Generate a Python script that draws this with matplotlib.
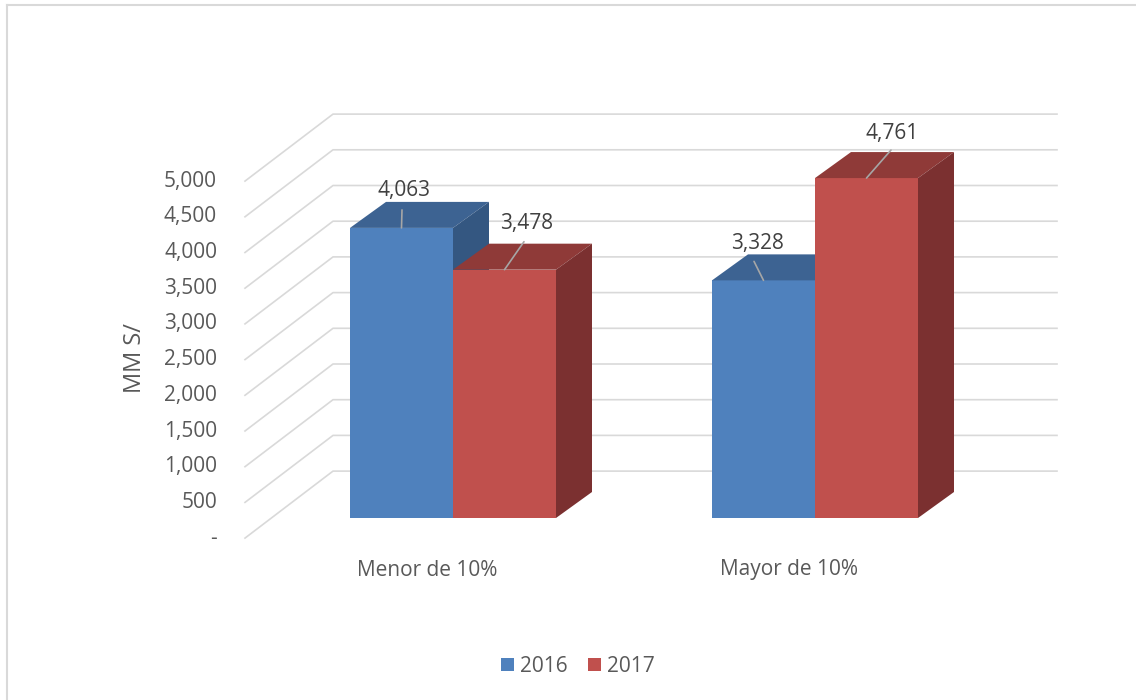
import matplotlib.pyplot as plt
from matplotlib.patches import Polygon, Rectangle, Patch
from matplotlib.lines import Line2D

# datos
categorias = ['Menor de 10%', 'Mayor de 10%']
series = ['2016', '2017']
v2016 = [4063, 3328]
v2017 = [3478, 4761]
ticks = [0, 500, 1000, 1500, 2000, 2500, 3000, 3500, 4000, 4500, 5000]

# colores: frente, tapa, lado
col_front = ['#4F81BD', '#C0504D']
col_top = ['#3D6392', '#8F3A38']
col_side = ['#345781', '#7B3030']
grid_c = '#D9D9D9'; txt_c = '#595959'; lab_c = '#404040'

plt.rcParams['font.family'] = ['Open Sans', 'DejaVu Sans']

fig = plt.figure(figsize=(11.36, 7), dpi=100)
ax = fig.add_axes([0, 0, 1, 1]); ax.axis('off')

# escala: pixeles por categoria y por unidad de valor
pxc = 362.; pxv = 35.7/500
x0px = 453.; y0px = 518.
ax.set_xlim(-x0px/pxc, (1136-x0px)/pxc)
ax.set_ylim(-(700-y0px)/pxv, y0px/pxv)

# profundidad de la pared / barras
dxD = 88/pxc; dyD = 67/pxv; f0 = 0.3
w = 103/pxc
bdx = 36/pxc; bdy = 26/pxv
fl_x = (245-x0px)/pxc; wall_r = (1057-x0px)/pxc

# rejilla 3d y etiquetas del eje
for t in ticks:
    yb = t+(1-f0)*dyD
    ax.plot([fl_x, fl_x+dxD, wall_r], [t-f0*dyD, yb, yb], color=grid_c, lw=1.2, zorder=1)
    ax.text(fl_x-28/pxc, t-f0*dyD, '-' if t == 0 else f'{t:,}', ha='right', va='center',
            fontsize=15, color=txt_c)

# desplazamientos de etiquetas (pixeles): texto y fin de linea guia
lab_off = [[(2.5, 37), (22, 46)], [(-6, 37), (26, 45)]]
lead_off = [[(0.5, 18), (19.5, 28)], [(-9.5, 19), (24.5, 28)]]

vals = [v2016, v2017]
for i in range(len(categorias)):
    for j in range(len(series)):
        v = vals[j][i]
        x0 = i - w + j*w
        z = 2 + j
        ax.add_patch(Rectangle((x0, 0), w, v, fc=col_front[j], ec='none', zorder=z))
        ax.add_patch(Polygon([(x0, v), (x0+w, v), (x0+w+bdx, v+bdy), (x0+bdx, v+bdy)],
                             fc=col_top[j], ec='none', zorder=z))
        ax.add_patch(Polygon([(x0+w, 0), (x0+w+bdx, bdy), (x0+w+bdx, v+bdy), (x0+w, v)],
                             fc=col_side[j], ec='none', zorder=z))
        cx = x0 + w/2
        ax.annotate('', xy=(cx, v), xytext=lead_off[i][j], textcoords='offset pixels',
                    arrowprops=dict(arrowstyle='-', color='#A6A6A6', lw=1.2, shrinkA=0, shrinkB=0),
                    zorder=10)
        ax.annotate(f'{v:,}', xy=(cx, v), xytext=lab_off[i][j], textcoords='offset pixels',
                    ha='center', va='center', fontsize=15, color=lab_c, zorder=11)

# categorias
for i, c in enumerate(categorias):
    ax.text(i-26/pxc, (y0px-570)/pxv, c, ha='center', va='center', fontsize=15, color=txt_c)

ax.text((135-x0px)/pxc, (y0px-358)/pxv, 'MM S/', rotation=90, ha='center', va='center',
        fontsize=17, color=txt_c)

handles = [Patch(fc=col_front[j], ec='none') for j in range(len(series))]
leg = fig.legend(handles, series, loc='center', bbox_to_anchor=(578/1136, 1-666/700), ncol=2,
                 frameon=False, fontsize=15, handlelength=0.6, handleheight=0.6,
                 columnspacing=1.0, handletextpad=0.3)
for t in leg.get_texts():
    t.set_color(txt_c)

# borde del grafico (solo arriba e izquierda visibles)
fig.add_artist(Line2D([7/1136, 7/1136], [0, 1-5/700], color=grid_c, lw=1.5))
fig.add_artist(Line2D([7/1136, 1], [1-5/700, 1-5/700], color=grid_c, lw=1.5))

fig.savefig('out.png', dpi=100)
